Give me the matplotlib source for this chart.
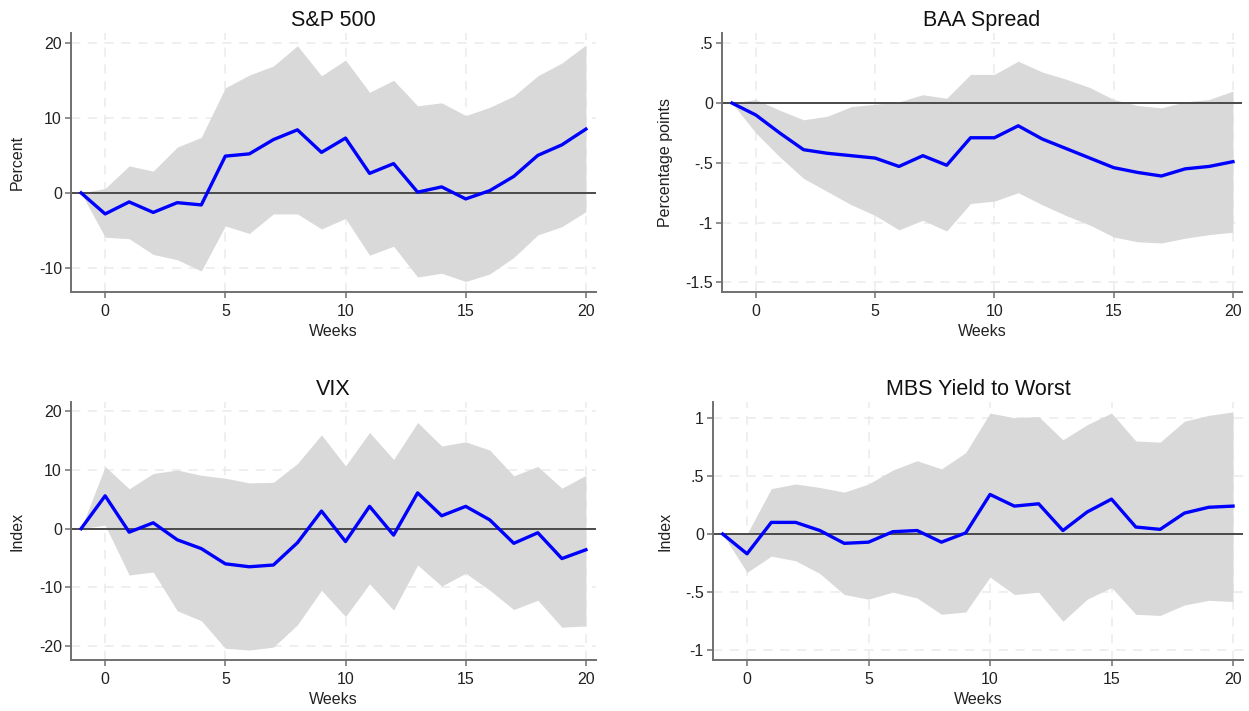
import numpy as np
import matplotlib
matplotlib.use("Agg")
import matplotlib.pyplot as plt
from matplotlib.ticker import FixedLocator, FixedFormatter

plt.rcParams['font.family'] = ['Liberation Sans', 'DejaVu Sans']
plt.rcParams['axes.unicode_minus'] = False

# horizon in weeks, -1 is the pre-shock normalisation point
weeks = np.arange(-1, 21)

# S&P 500 response (percent) with confidence band
spx_irf = [0, -2.8, -1.2, -2.6, -1.3, -1.6, 4.9, 5.2, 7.1, 8.4, 5.4, 7.3,
           2.6, 3.9, 0.1, 0.8, -0.8, 0.3, 2.2, 5.0, 6.4, 8.5]
spx_hi = [0, 0.6, 3.6, 2.9, 6.1, 7.4, 14.0, 15.7, 16.9, 19.6, 15.6, 17.7,
          13.4, 15.0, 11.6, 12.0, 10.3, 11.4, 12.9, 15.6, 17.3, 19.7]
spx_lo = [0, -5.9, -6.1, -8.2, -8.9, -10.4, -4.4, -5.4, -2.8, -2.8, -4.8, -3.4,
          -8.3, -7.1, -11.2, -10.7, -11.8, -10.8, -8.6, -5.6, -4.5, -2.5]

# BAA spread (percentage points)
baa_irf = [0, -0.10, -0.25, -0.39, -0.42, -0.44, -0.46, -0.53, -0.44, -0.52, -0.29, -0.29,
           -0.19, -0.30, -0.38, -0.46, -0.54, -0.58, -0.61, -0.55, -0.53, -0.49]
baa_hi = [0, 0.03, -0.06, -0.14, -0.11, -0.03, -0.01, 0.01, 0.07, 0.04, 0.24, 0.24,
          0.35, 0.26, 0.20, 0.13, 0.03, -0.02, -0.04, 0.01, 0.03, 0.10]
baa_lo = [0, -0.25, -0.45, -0.63, -0.74, -0.85, -0.94, -1.06, -0.98, -1.07, -0.84, -0.82,
          -0.75, -0.85, -0.94, -1.02, -1.12, -1.16, -1.17, -1.13, -1.10, -1.08]

# VIX (index points)
vix_irf = [0, 5.6, -0.6, 1.0, -1.9, -3.4, -6.0, -6.5, -6.2, -2.4, 3.0, -2.2,
           3.8, -1.1, 6.1, 2.2, 3.8, 1.5, -2.5, -0.7, -5.1, -3.6]
vix_hi = [0, 10.6, 6.8, 9.4, 10.0, 9.1, 8.6, 7.8, 7.9, 11.1, 16.0, 10.7,
          16.4, 11.8, 18.1, 14.1, 14.8, 13.4, 9.0, 10.6, 6.9, 9.1]
vix_lo = [0, 0.6, -7.9, -7.4, -14.0, -15.7, -20.4, -20.7, -20.2, -16.4, -10.5, -15.0,
          -9.4, -13.9, -6.2, -9.8, -7.6, -10.5, -13.8, -12.2, -16.8, -16.6]

# MBS yield to worst
mbs_irf = [0, -0.17, 0.10, 0.10, 0.03, -0.08, -0.07, 0.02, 0.03, -0.07, 0.01, 0.34,
           0.24, 0.26, 0.03, 0.19, 0.30, 0.06, 0.04, 0.18, 0.23, 0.24]
mbs_hi = [0, 0.0, 0.39, 0.43, 0.40, 0.36, 0.43, 0.55, 0.63, 0.56, 0.70, 1.04,
          1.00, 1.01, 0.81, 0.94, 1.04, 0.80, 0.79, 0.97, 1.02, 1.05]
mbs_lo = [0, -0.33, -0.19, -0.23, -0.34, -0.52, -0.56, -0.50, -0.55, -0.69, -0.67, -0.37,
          -0.52, -0.50, -0.75, -0.56, -0.46, -0.69, -0.70, -0.61, -0.57, -0.58]

x_ticks = [0, 5, 10, 15, 20]
spx_yticks = [-10, 0, 10, 20]
baa_yticks = [-1.5, -1, -0.5, 0, 0.5]
baa_ylabels = ['-1.5', '-1', '-.5', '0', '.5']
vix_yticks = [-20, -10, 0, 10, 20]
mbs_yticks = [-1, -0.5, 0, 0.5, 1]
mbs_ylabels = ['-1', '-.5', '0', '.5', '1']

W, H = 1249, 711
fig = plt.figure(figsize=(W / 100, H / 100), dpi=100)


# axes placed by pixel box (left, top, right, bottom)
def px_axes(l, t, r, b):
    return fig.add_axes([l / W, 1 - b / H, (r - l) / W, (b - t) / H])


def irf_panel(ax, irf, lo, hi, title, ylab, yticks, ylabels, ylim, xlim, label_x):
    ax.fill_between(weeks, lo, hi, color='#d9d9d9', linewidth=0, zorder=1)
    ax.axhline(0, color='#4a4a4a', linewidth=1.4, zorder=2)
    ax.plot(weeks, irf, color='#0000ff', linewidth=2.4, zorder=3)

    ax.set_xlim(*xlim)
    ax.set_ylim(*ylim)
    ax.xaxis.set_major_locator(FixedLocator(x_ticks))
    ax.yaxis.set_major_locator(FixedLocator(yticks))
    if ylabels is not None:
        ax.yaxis.set_major_formatter(FixedFormatter(ylabels))

    # stata-like dashed grid under everything
    ax.grid(True, color='#ebebeb', linestyle=(0, (6, 5)), linewidth=1.1, zorder=0)
    ax.set_axisbelow(True)

    for s in ['top', 'right']:
        ax.spines[s].set_visible(False)
    for s in ['left', 'bottom']:
        ax.spines[s].set_color('#707070')
        ax.spines[s].set_linewidth(1.4)

    ax.tick_params(axis='both', direction='out', length=4, width=1.1,
                   color='#707070', labelsize=11.5, labelcolor='#222222')
    ax.tick_params(axis='x', pad=5)
    ax.tick_params(axis='y', pad=2.5)

    ax.set_title(title, fontsize=15.5, pad=5, color='#111111')
    ax.set_xlabel('Weeks', fontsize=11.5, color='#222222')
    ax.set_ylabel(ylab, fontsize=11.5, color='#222222')
    ax.xaxis.set_label_coords(0.5, -0.125)
    ax.yaxis.set_label_coords(label_x, 0.5)


ax1 = px_axes(71, 33, 596, 292)
irf_panel(ax1, spx_irf, spx_lo, spx_hi, 'S&P 500', 'Percent',
          spx_yticks, None, (-13.2, 21.3), (-1.42, 20.42), -0.088)

ax2 = px_axes(722, 33, 1242, 292)
irf_panel(ax2, baa_irf, baa_lo, baa_hi, 'BAA Spread', 'Percentage points',
          baa_yticks, baa_ylabels, (-1.58, 0.586), (-1.42, 20.38), -0.094)

ax3 = px_axes(71, 402, 596, 660)
irf_panel(ax3, vix_irf, vix_lo, vix_hi, 'VIX', 'Index',
          vix_yticks, None, (-22.4, 21.6), (-1.42, 20.42), -0.088)

ax4 = px_axes(713, 402, 1243, 660)
irf_panel(ax4, mbs_irf, mbs_lo, mbs_hi, 'MBS Yield to Worst', 'Index',
          mbs_yticks, mbs_ylabels, (-1.083, 1.135), (-1.40, 20.41), -0.077)

fig.savefig('out.png', dpi=100, facecolor='white')
